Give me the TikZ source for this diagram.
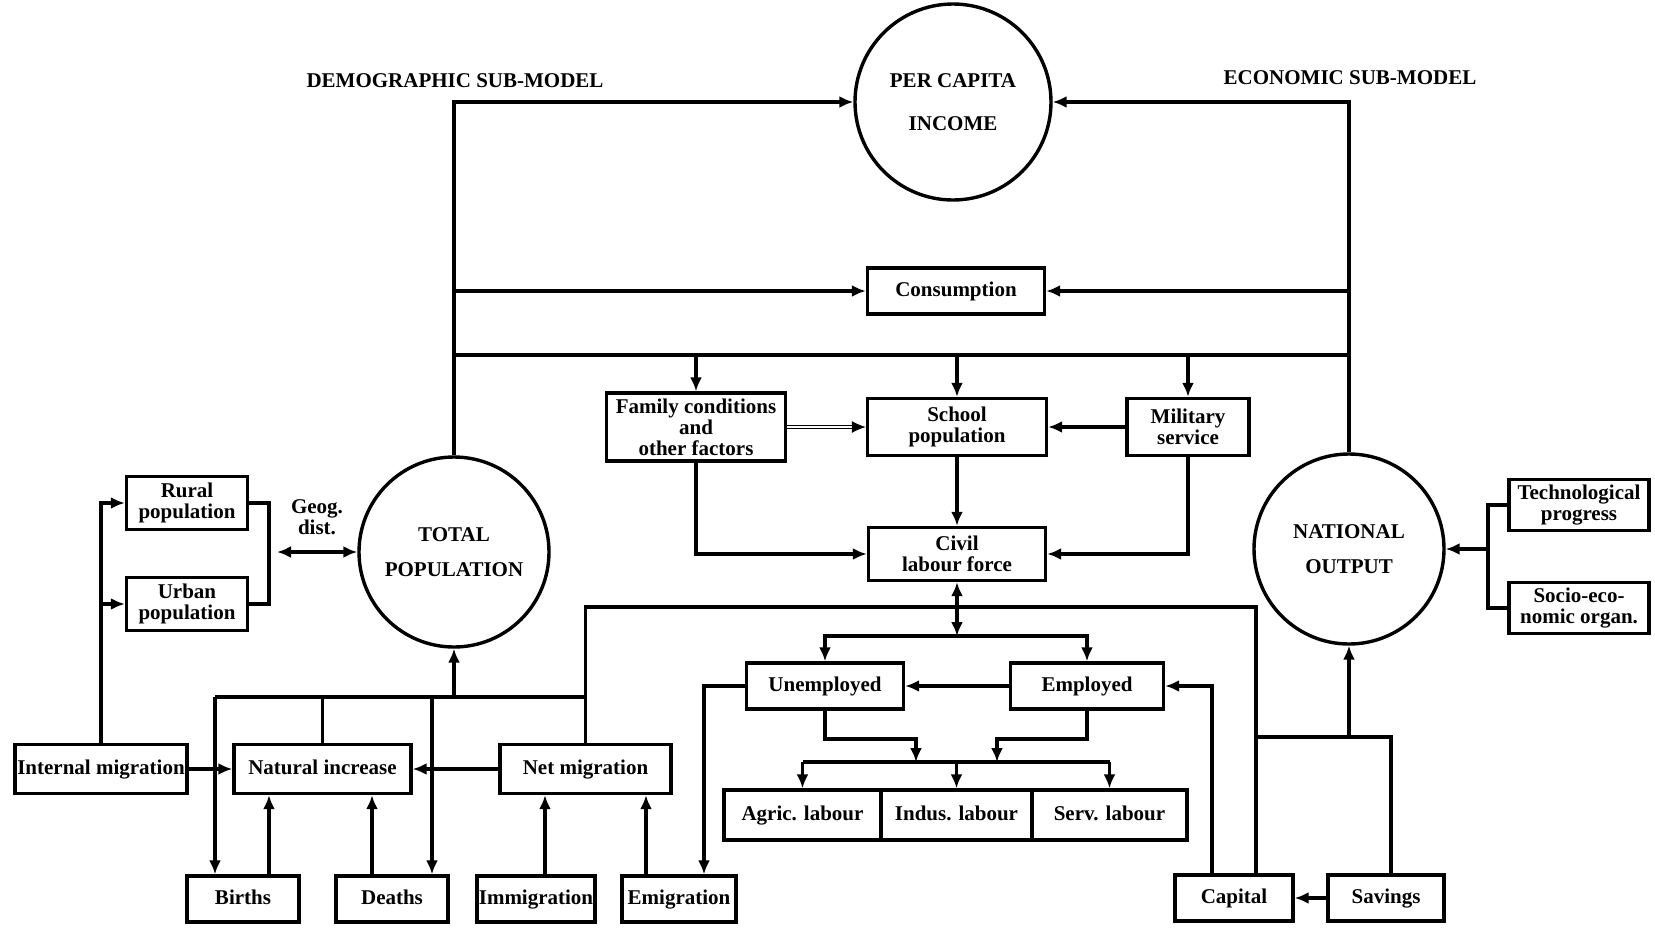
\documentclass[tikz,border=0pt]{standalone}
\usepackage{fontspec}
\setmainfont{Liberation Serif}
\usetikzlibrary{arrows.meta}
\begin{document}
\begin{tikzpicture}[x=0.5pt,y=-0.5pt,font=\bfseries\fontsize{10.5}{10.5}\selectfont,
 box/.style={draw,line width=1.7pt,align=center,inner sep=1pt,minimum height=23pt},
 one/.style={text height=7.5pt,text depth=2pt},
 hub/.style={draw,circle,line width=1.7pt,align=center,inner sep=0pt},
 arr/.style={-{Latex[length=7pt,width=6pt]},line width=1.7pt},
 darr/.style={{Latex[length=7pt,width=6pt]}-{Latex[length=7pt,width=6pt]},line width=1.7pt},
 ln/.style={line width=1.7pt}]
\useasboundingbox (0,0) rectangle (1655,927);
% sub-model titles
\node (demo) at (455,81) {DEMOGRAPHIC SUB-MODEL};
\node (econ) at (1350,78) {ECONOMIC SUB-MODEL};
% circles
\node[hub,minimum size=98pt] (pci) at (953,102) {PER CAPITA\\[11pt]INCOME};
\node[hub,minimum size=95pt] (tp) at (454,552) {TOTAL\\[7pt]POPULATION};
\node[hub,minimum size=95pt] (no) at (1349,549) {NATIONAL\\[7pt]OUTPUT};
% boxes
\node[box,one,minimum width=88.5pt] (cons) at (956,291) {Consumption};
\node[box,minimum width=89.5pt,minimum height=34pt] (fam) at (696,427) {Family conditions\\and\\other factors};
\node[box,minimum width=89.5pt,minimum height=28.5pt] (school) at (957,427) {School\\population};
\node[box,minimum width=61pt,minimum height=28.5pt] (mil) at (1188,427) {Military\\service};
\node[box,minimum width=88.5pt,minimum height=26.5pt] (civil) at (957,554) {Civil\\labour force};
\node[box,minimum width=60.5pt,minimum height=26.5pt] (rural) at (187,503) {Rural\\population};
\node[box,minimum width=60.5pt,minimum height=26.5pt] (urban) at (187,604) {Urban\\population};
\node[box,minimum width=70pt,minimum height=25.5pt] (tech) at (1579,505) {Technological\\progress};
\node[box,minimum width=70pt,minimum height=25.5pt] (socio) at (1579,608) {Socio-eco-\\nomic organ.};
\node[box,one,minimum width=78.5pt] (unemp) at (825,686) {Unemployed};
\node[box,one,minimum width=76.5pt] (emp) at (1087,686) {Employed};
\node[box,one,minimum width=78.5pt,minimum height=25pt] (agric) at (802.5,815) {Agric. labour};
\node[box,one,minimum width=75.5pt,minimum height=25pt] (indus) at (956.5,815) {Indus. labour};
\node[box,one,minimum width=77.5pt,minimum height=25pt] (serv) at (1109.5,815) {Serv. labour};
\node[box,one,minimum width=86pt,minimum height=24.5pt] (intmig) at (101,769) {Internal migration};
\node[box,one,minimum width=88.5pt,minimum height=24.5pt] (natinc) at (322.5,769) {Natural increase};
\node[box,one,minimum width=85.5pt,minimum height=24.5pt] (netmig) at (585.5,769) {Net migration};
\node[box,one,minimum width=56pt] (births) at (243,899) {Births};
\node[box,one,minimum width=56pt] (deaths) at (392,899) {Deaths};
\node[box,one,minimum width=57pt] (immig) at (536,899) {Immigration};
\node[box,one,minimum width=57pt] (emig) at (679,899) {Emigration};
\node[box,one,minimum width=59pt] (capital) at (1234,898) {Capital};
\node[box,one,minimum width=58pt] (savings) at (1386,898) {Savings};
\node[align=center] (geog) at (317,517) {Geog.\\dist.};
% junctions
\coordinate (cL) at (454,291); \coordinate (cR) at (1349,291);
\coordinate (busL) at (454,355); \coordinate (busR) at (1349,355);
\coordinate (lf) at (957,607); \coordinate (ue) at (957,636);
\coordinate (lb) at (957,762); \coordinate (uj) at (916,739); \coordinate (ej) at (997,739);
\coordinate (dj) at (454,697); \coordinate (bj) at (215,697); \coordinate (dthj) at (432,697);
\coordinate (gj) at (269,552); \coordinate (sj) at (1349,737); \coordinate (tj) at (1488,549);
% upper part
\draw[arr] (tp.north) |- (pci.west); \draw[arr] (no.north) |- (pci.east);
\draw[arr] (cL) -- (cons.west); \draw[arr] (cR) -- (cons.east);
\draw[ln] (busL) -- (busR);
\draw[arr] (fam.north |- busL) -- (fam.north); \draw[arr] (school.north |- busL) -- (school.north); \draw[arr] (mil.north |- busL) -- (mil.north);
\draw[arr,double,line width=0.6pt,double distance=1.2pt] (fam.east) -- (school.west); \draw[arr] (mil.west) -- (school.east);
\draw[arr] (fam.south) |- (civil.west); \draw[arr] (school.south) -- (civil.north); \draw[arr] (mil.south) |- (civil.east);
% labour force
\draw[arr] (lf) -- (civil.south); \draw[arr] (lf) -- (ue);
\draw[arr] (ue) -| (unemp.north); \draw[arr] (ue) -| (emp.north);
\draw[arr] (emp.west) -- (unemp.east);
\draw[arr] (unemp.west) -| ([xshift=12.5pt]emig.north);
\draw[arr] (unemp.south) |- (uj) -- (uj |- lb); \draw[arr] (emp.south) |- (ej) -- (ej |- lb);
\draw[ln] (agric.north |- lb) -- (serv.north |- lb);
\draw[arr] (agric.north |- lb) -- (agric.north); \draw[arr] (indus.north |- lb) -- (indus.north); \draw[arr] (serv.north |- lb) -- (serv.north);
\draw[ln] (netmig.north) |- ([xshift=11pt]capital.north |- lf) -- ([xshift=11pt]capital.north);
% demographic side
\draw[arr] (dj) -- (tp.south);
\draw[ln] (bj) -- (netmig.north |- bj); \draw[ln] (natinc.north) -- (natinc.north |- bj);
\draw[arr] (bj) -- (bj |- births.north); \draw[arr] (dthj) -- (dthj |- deaths.north);
\draw[arr] ([xshift=13pt]births.north) -- ([xshift=13pt]births.north |- natinc.south);
\draw[arr] ([xshift=-10pt]deaths.north) -- ([xshift=-10pt]deaths.north |- natinc.south);
\draw[arr] ([xshift=4.5pt]immig.north) -- ([xshift=4.5pt]immig.north |- netmig.south);
\draw[arr] ([xshift=-16.5pt]emig.north) -- ([xshift=-16.5pt]emig.north |- netmig.south);
\draw[arr] (netmig.west) -- (natinc.east); \draw[arr] (intmig.east) -- (natinc.west);
\draw[arr] (intmig.north) |- (rural.west); \draw[arr] (intmig.north |- urban.west) -- (urban.west);
\draw[ln] (rural.east) -| (gj) |- (urban.east);
\draw[darr] ([xshift=4pt]gj) -- (tp.west);
% economic side
\draw[arr] ([xshift=-11pt]capital.north) |- (emp.east);
\draw[arr] (sj) -- (no.south);
\draw[ln] ([xshift=11pt]capital.north |- sj) -- ([xshift=2.5pt]savings.north |- sj) -- ([xshift=2.5pt]savings.north);
\draw[arr] (savings.west) -- (capital.east);
\draw[arr] (tj) -- (no.east); \draw[ln] (tech.west) -| (tj) |- (socio.west);
\end{tikzpicture}
\end{document}
